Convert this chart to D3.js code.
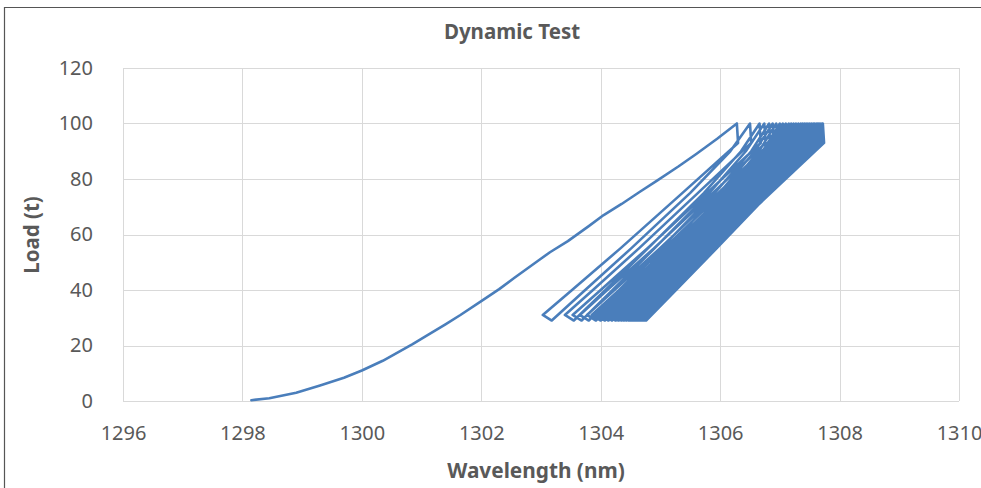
<!DOCTYPE html>
<html><head><meta charset="utf-8">
<script src="https://cdn.jsdelivr.net/npm/d3@7/dist/d3.min.js"></script>
<style>body{margin:0;background:#fff}svg{display:block}</style>
</head><body>
<svg id="c" width="981" height="488"></svg>
<script>
const title = "Dynamic Test";
const xLabel = "Wavelength (nm)";
const yLabel = "Load (t)";
const xTicks = [1296,1298,1300,1302,1304,1306,1308,1310];
const yTicks = [0,20,40,60,80,100,120];

// initial loading ramp: wavelength / load pairs
const rampWl   = [1298.15,1298.45,1298.9,1299.3,1299.7,1300.0,1300.35,1300.85,1301.1,1301.4,1301.65,1302.0,1302.3,1302.55,1302.98,1303.15,1303.45,1303.8,1304.05,1304.35,1304.65,1304.95,1305.3,1305.6,1305.95,1306.28];
const rampLoad = [0.3,1.0,3.0,5.6,8.4,11.0,14.5,20.5,23.7,27.6,31.0,36.0,40.3,44.3,51.0,53.6,57.6,63.0,67.0,71.0,75.3,79.5,84.5,89.0,94.5,100];

// unloading branches (cycle 1..31): wavelengths at these loads
const downLoads = [100,93,75,55,40,31];
const downWl = [
[1306.28,1306.30,1305.37,1304.33,1303.52,1303.03],
[1306.50,1306.52,1305.63,1304.64,1303.87,1303.40],
[1306.66,1306.68,1305.78,1304.78,1304.00,1303.53],
[1306.74,1306.76,1305.88,1304.89,1304.11,1303.65],
[1306.82,1306.84,1305.97,1304.99,1304.23,1303.77],
[1306.88,1306.90,1306.03,1305.06,1304.31,1303.85],
[1306.94,1306.96,1306.09,1305.13,1304.37,1303.92],
[1307.00,1307.02,1306.15,1305.19,1304.43,1303.98],
[1307.05,1307.07,1306.21,1305.24,1304.49,1304.04],
[1307.10,1307.12,1306.26,1305.30,1304.55,1304.10],
[1307.15,1307.17,1306.31,1305.35,1304.60,1304.15],
[1307.19,1307.21,1306.35,1305.40,1304.65,1304.20],
[1307.23,1307.25,1306.39,1305.44,1304.69,1304.24],
[1307.27,1307.29,1306.43,1305.48,1304.73,1304.28],
[1307.31,1307.33,1306.47,1305.52,1304.77,1304.32],
[1307.35,1307.37,1306.51,1305.55,1304.80,1304.35],
[1307.38,1307.40,1306.54,1305.58,1304.83,1304.38],
[1307.41,1307.43,1306.57,1305.61,1304.86,1304.41],
[1307.44,1307.46,1306.60,1305.64,1304.89,1304.44],
[1307.47,1307.49,1306.63,1305.66,1304.91,1304.46],
[1307.50,1307.52,1306.65,1305.69,1304.93,1304.48],
[1307.53,1307.55,1306.68,1305.71,1304.96,1304.50],
[1307.56,1307.58,1306.71,1305.74,1304.98,1304.52],
[1307.58,1307.60,1306.73,1305.76,1305.00,1304.54],
[1307.61,1307.63,1306.76,1305.78,1305.02,1304.56],
[1307.63,1307.65,1306.77,1305.79,1305.03,1304.57],
[1307.65,1307.67,1306.79,1305.81,1305.04,1304.58],
[1307.67,1307.69,1306.81,1305.82,1305.05,1304.59],
[1307.69,1307.71,1306.83,1305.84,1305.06,1304.60],
[1307.71,1307.73,1306.84,1305.85,1305.08,1304.61],
[1307.72,1307.74,1306.85,1305.86,1305.09,1304.62]
];

// reloading branches (cycle 2..31): wavelengths at these loads
const upLoads = [29,40,55,75,90,100];
const upWl = [
[1303.18,1303.74,1304.51,1305.50,1306.17,1306.50],
[1303.55,1304.08,1304.79,1305.73,1306.35,1306.66],
[1303.68,1304.20,1304.90,1305.82,1306.43,1306.74],
[1303.80,1304.31,1305.01,1305.91,1306.52,1306.82],
[1303.92,1304.42,1305.10,1305.99,1306.58,1306.88],
[1304.00,1304.50,1305.18,1306.06,1306.65,1306.94],
[1304.07,1304.57,1305.24,1306.12,1306.71,1307.00],
[1304.13,1304.63,1305.30,1306.17,1306.76,1307.05],
[1304.19,1304.69,1305.35,1306.23,1306.81,1307.10],
[1304.25,1304.74,1305.41,1306.28,1306.86,1307.15],
[1304.30,1304.79,1305.46,1306.32,1306.90,1307.19],
[1304.35,1304.84,1305.50,1306.37,1306.94,1307.23],
[1304.39,1304.88,1305.54,1306.41,1306.98,1307.27],
[1304.43,1304.92,1305.58,1306.45,1307.02,1307.31],
[1304.47,1304.96,1305.62,1306.49,1307.06,1307.35],
[1304.50,1304.99,1305.65,1306.52,1307.09,1307.38],
[1304.53,1305.02,1305.68,1306.55,1307.12,1307.41],
[1304.56,1305.05,1305.71,1306.58,1307.15,1307.44],
[1304.59,1305.08,1305.74,1306.61,1307.18,1307.47],
[1304.61,1305.10,1305.77,1306.63,1307.21,1307.50],
[1304.63,1305.12,1305.79,1306.66,1307.24,1307.53],
[1304.65,1305.15,1305.81,1306.69,1307.27,1307.56],
[1304.67,1305.17,1305.83,1306.71,1307.29,1307.58],
[1304.69,1305.19,1305.86,1306.73,1307.32,1307.61],
[1304.71,1305.21,1305.88,1306.75,1307.34,1307.63],
[1304.72,1305.22,1305.89,1306.77,1307.36,1307.65],
[1304.73,1305.23,1305.91,1306.79,1307.38,1307.67],
[1304.74,1305.24,1305.92,1306.81,1307.40,1307.69],
[1304.75,1305.25,1305.93,1306.82,1307.41,1307.71],
[1304.76,1305.26,1305.94,1306.83,1307.42,1307.72]
];

// assemble the single series in recorded order
const pts = [];
rampWl.forEach((w,i)=>pts.push([w, rampLoad[i]]));
downWl.forEach((row,c)=>{
  row.forEach((w,j)=>pts.push([w, downLoads[j]]));
  if (c < upWl.length) upWl[c].forEach((w,j)=>pts.push([w, upLoads[j]]));
});

const svg = d3.select("#c");
const W = 981, H = 488;
const m = {l:123, r:22, t:68, b:87};
const x = d3.scaleLinear().domain([1296,1310]).range([m.l, W-m.r]);
const y = d3.scaleLinear().domain([0,120]).range([H-m.b, m.t]);
const txt = "#595959", grid = "#d9d9d9";
const font = "'Noto Sans', 'Open Sans', sans-serif";

// outer frame
svg.append("path").attr("d", `M4.5,${H}V7.5H${W}`).attr("fill","none").attr("stroke","#555").attr("stroke-width",1.2);

// gridlines
svg.append("g").selectAll("line").data(yTicks).join("line")
  .attr("x1", x(1296)).attr("x2", x(1310))
  .attr("y1", d=>Math.round(y(d))+0.5).attr("y2", d=>Math.round(y(d))+0.5)
  .attr("stroke", grid).attr("stroke-width",1);
svg.append("g").selectAll("line").data(xTicks).join("line")
  .attr("y1", y(0)).attr("y2", y(120))
  .attr("x1", d=>Math.round(x(d))+0.5).attr("x2", d=>Math.round(x(d))+0.5)
  .attr("stroke", grid).attr("stroke-width",1);

// axes (labels only)
const xa = svg.append("g").attr("transform", `translate(0,${y(0)})`)
  .call(d3.axisBottom(x).tickValues(xTicks).tickFormat(d3.format("d")).tickSize(0).tickPadding(25));
const ya = svg.append("g").attr("transform", `translate(${m.l},0)`)
  .call(d3.axisLeft(y).tickValues(yTicks).tickSize(0).tickPadding(30));
[xa, ya].forEach(a=>{
  a.select(".domain").remove();
  a.selectAll("text").attr("fill", txt).attr("font-family", font).attr("font-size", 20);
});

// data line
const line = d3.line().x(d=>x(d[0])).y(d=>y(d[1]));
svg.append("path").datum(pts).attr("d", line)
  .attr("fill","none").attr("stroke","#4a7ebb").attr("stroke-width",2.6)
  .attr("stroke-linejoin","round").attr("stroke-linecap","round");

// titles
svg.append("text").text(title).attr("x", 512).attr("y", 39).attr("text-anchor","middle")
  .attr("fill", txt).attr("font-family", font).attr("font-weight","bold").attr("font-size", 20.5);
svg.append("text").text(xLabel).attr("x", 536).attr("y", 478).attr("text-anchor","middle")
  .attr("fill", txt).attr("font-family", font).attr("font-weight","bold").attr("font-size", 20.8);
svg.append("text").text(yLabel).attr("transform", "translate(39,235) rotate(-90)").attr("text-anchor","middle")
  .attr("fill", txt).attr("font-family", font).attr("font-weight","bold").attr("font-size", 20.5);
</script>
</body></html>
